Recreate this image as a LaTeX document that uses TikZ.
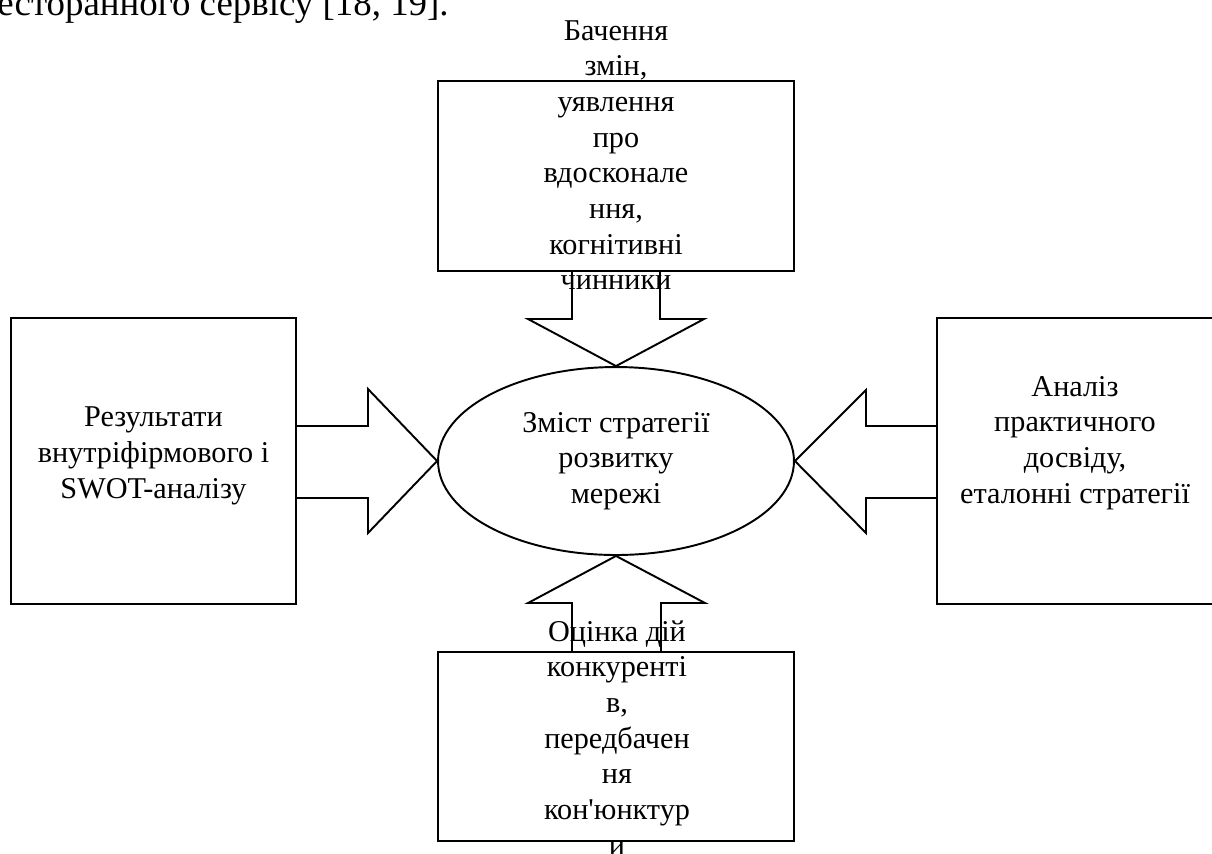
\documentclass[tikz,border=0pt]{standalone}
\usepackage{fontspec}
\setmainfont{Liberation Serif}
\newfontfamily\plainserif{Liberation Serif}
\usetikzlibrary{shapes.geometric}

\begin{document}
\begin{tikzpicture}[x=0.02cm,y=-0.02cm,
  box/.style={draw,line width=1.1pt,inner sep=0pt},
  blk/.style={draw,line width=1.1pt,line join=miter},
  lbl/.style={align=center,inner sep=0pt,
              font={\fontsize{17.2}{20.3}\selectfont}},
]
\useasboundingbox (0,0) rectangle (1212,853);

% the running text cut off at the top of the page
\node[lbl,anchor=base west,font={\fontsize{21}{25}\selectfont}] (runtxt) at (-3,15)
  {есторанного сервісу [18, 19].};

% centre
\node[box,ellipse,minimum width=7.12cm,minimum height=3.76cm,lbl] (strat) at (616,461)
  {Зміст стратегії\\розвитку\\мережі};

% four boxes round it
\node[box,minimum width=7.12cm,minimum height=3.8cm] (vision) at (616,176) {};
\node[box,minimum width=5.7cm,minimum height=5.72cm] (swot) at (153.5,461) {};
\node[box,minimum width=5.7cm,minimum height=5.72cm] (bench) at (1079.5,461) {};
\node[box,minimum width=7.12cm,minimum height=3.78cm] (rivals) at (616,746.5) {};

\node[lbl,anchor=north] (visiontxt) at (616,20)
  {Бачення\\змін,\\уявлення\\про\\вдосконале\\ння,\\когнітивні\\чинники};
\node[lbl] (swottxt) at (153.5,456)
  {Результати\\внутріфірмового і\\SWOT-аналізу};
\node[lbl] (benchtxt) at (1075,443)
  {Аналіз\\практичного\\досвіду,\\еталонні стратегії};
\node[lbl,anchor=north] (rivalstxt) at (617,620)
  {Оцінка дій\\конкуренті\\в,\\передбачен\\ня\\кон{\plainserif'}юнктур\\и};

% block arrows into the ellipse
\draw[blk] (572,271) |- (528,319) -- (strat.north) -- (704,319) -| (660,271);
\draw[blk] (296,426) -| (368,389) -- (strat.west) -- (368,533) |- (296,498);
\draw[blk] (937,426) -| (866,390) -- (strat.east) -- (866,533) |- (937,498);
\draw[blk] (572,652) |- (528,603) -- (strat.south) -- (705,603) -| (661,652);
\end{tikzpicture}
\end{document}
